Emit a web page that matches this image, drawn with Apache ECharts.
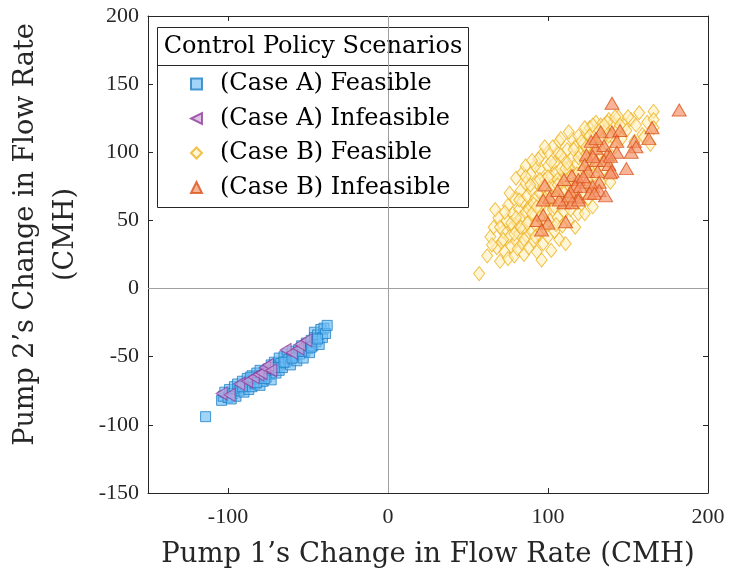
<!DOCTYPE html>
<html>
<head>
<meta charset="utf-8">
<title>Control Policy Scenarios</title>
<script src="https://cdn.jsdelivr.net/npm/echarts@6/dist/echarts.min.js"></script>
<style>
  html, body { margin: 0; padding: 0; background: #ffffff; }
  #chart { width: 729px; height: 573px; }
</style>
</head>
<body>
<div id="chart"></div>
<script>
// Pump flow-rate changes (CMH): [pump 1, pump 2]
const caseAFeasible = [
  [-114,-94],[-104,-82],[-103,-79],[-102,-76],[-100,-80],[-99,-74],[-97,-77],[-96,-72],
  [-95,-79],[-94,-70],[-93,-75],[-92,-73],[-91,-68],[-90,-76],[-89,-71],[-88,-66],
  [-87,-74],[-86,-69],[-85,-64],[-85,-72],[-84,-67],[-83,-70],[-82,-62],[-81,-66],
  [-80,-71],[-80,-60],[-79,-64],[-78,-68],[-77,-61],[-76,-65],[-75,-59],[-74,-63],
  [-73,-56],[-73,-67],[-72,-60],[-71,-54],[-70,-62],[-69,-57],[-68,-51],[-68,-60],
  [-67,-55],[-66,-58],[-65,-50],[-64,-54],[-63,-48],[-62,-52],[-61,-56],[-60,-46],
  [-59,-50],[-58,-49],[-57,-53],[-56,-45],[-55,-48],[-54,-42],[-53,-51],[-52,-46],
  [-51,-40],[-50,-44],[-49,-47],[-48,-38],[-47,-42],[-46,-32],[-46,-36],[-45,-39],
  [-44,-34],[-43,-41],[-42,-30],[-41,-36],[-40,-29],[-39,-33],[-38,-27],
  [-98,-81],[-91,-72],[-86,-65],[-82,-69],[-77,-66],[-71,-58],[-65,-54],[-60,-51],
  [-54,-46],[-48,-43],[-44,-37]
];
const caseAInfeasible = [
  [-104,-77],[-99,-78],[-93,-70],[-88,-68],[-84,-65],[-81,-63],[-79,-62],[-77,-58],
  [-75,-56],[-73,-60],[-64,-45],[-60,-47],[-56,-44],[-55,-41],[-51,-38]
];
const caseBFeasible = [
  [57,11],[62,24],[64,38],[66,45],[68,30],[69,52],[70,20],[67,58],
  [71,34],[72,42],[73,27],[74,50],[75,22],[75,61],[76,38],[77,31],[78,55],[78,45],
  [79,66],[80,81],[79,24],[80,35],[76,70],
  [81,48],[81,29],[82,58],[82,40],[83,72],[83,52],[84,33],[84,64],[85,44],[85,25],
  [86,56],[86,77],[87,38],[87,68],[88,49],[88,30],[89,61],[89,84],[90,42],[90,72],
  [84,85],[86,90],
  [91,55],[91,35],[92,66],[92,47],[93,78],[93,27],[94,58],[94,40],[95,88],[95,70],
  [96,50],[96,98],[96,21],[97,62],[97,33],[98,80],[98,44],[99,56],[99,72],[100,90],
  [100,38],[92,90],[94,95],
  [101,65],[101,50],[102,82],[102,28],[103,58],[103,74],[104,42],[104,92],[105,66],
  [105,85],[106,52],[106,100],[107,78],[107,36],[108,62],[108,88],[109,46],[109,72],
  [110,95],[110,57],[103,104],[107,108],
  [111,33],[111,80],[112,66],[112,102],[113,50],[113,88],[114,74],[114,58],[115,96],
  [115,110],[116,64],[116,82],[117,45],[117,104],[118,70],[118,92],[119,55],[119,112],
  [120,78],[120,100],[113,115],
  [121,62],[121,86],[122,106],[122,70],[123,94],[123,55],[124,114],[124,80],[125,66],
  [125,100],[126,88],[126,118],[127,74],[127,108],[128,95],[128,60],[129,84],[129,115],
  [130,104],[130,122],
  [131,90],[132,112],[133,78],[133,120],[134,100],[135,88],[136,116],[137,106],
  [138,124],[139,95],[140,112],[141,122],[142,104],[143,116],[144,126],[139,78],
  [146,110],[148,120],[149,116],[152,124],[154,108],[157,129],[159,113],[160,111],
  [162,122],[166,130],[166,124],[166,118],[164,106],
  [72,36],[77,48],[83,45],[88,58],[91,62],[95,52],[97,75],[101,70],[104,60],[106,80],
  [109,66],[111,88],[115,76],[118,84],[122,96],[125,92],[128,106],[131,98],[134,110],
  [123,118],[128,120],[137,122],
  [65,32],[70,45],[73,56],[79,40],[80,52],[82,65],[85,36],[87,48],[89,76],[90,55],
  [92,38],[93,60],[95,80],[98,66],[99,48],[100,82],[102,93],[103,66],[105,47],[106,76],
  [108,98],[110,70],[112,92],[114,82],[116,102],[117,72],[119,96],[121,108],[124,104],
  [126,112],[129,100],[132,116],[135,120],[138,112],[142,126],[145,120],[150,126],
  [155,120],[108,110],[100,100],[98,104],[90,94],[86,82]
];
const caseBInfeasible = [
  [140,136],[182,131],[165,118],[163,110],[133,115],[140,115],[145,116],[143,108],
  [154,108],[155,104],[152,100],[130,103],[135,105],[124,98],[137,98],[143,100],
  [130,94],[135,94],[138,91],[123,91],[125,86],[131,86],[140,86],[149,88],[115,83],
  [110,80],[98,76],[119,80],[124,78],[132,78],[117,75],[120,75],[128,75],[132,72],
  [114,71],[119,67],[126,70],[129,70],[136,68],[101,67],[97,65],[110,63],[115,63],
  [119,65],[107,65],[97,54],[93,50],[100,48],[111,49],[96,43],[127,108],[130,110],
  [139,97],[128,97],[139,85],[113,68],[122,82],[106,72]
];
const xTicks = [-100, 0, 100, 200];
const yRange = [-150, 200];
const xRange = [-150, 200];

const tickFont = '"Liberation Serif", serif';
const textFont = '"DejaVu Serif", "Liberation Serif", serif';
const axisColor = '#262626';

const chart = echarts.init(document.getElementById('chart'), null, { renderer: 'canvas' });

const baseAxis = {
  axisLine: { show: true, onZero: false, lineStyle: { color: axisColor, width: 1 } },
  splitLine: { show: false },
  axisTick: { show: true, inside: true, length: 5, lineStyle: { color: axisColor } }
};

chart.setOption({
  animation: false,
  backgroundColor: '#ffffff',
  grid: { left: 148, right: 21, top: 16, bottom: 80, containLabel: false, outerBoundsMode: 'none' },
  xAxis: [
    Object.assign({}, baseAxis, {
      type: 'value', position: 'bottom', min: xRange[0], max: xRange[1],
      axisTick: Object.assign({}, baseAxis.axisTick, { customValues: xTicks }),
      axisLabel: { customValues: xTicks, color: '#262626', fontFamily: tickFont, fontSize: 22, margin: 13 },
      name: 'Pump 1’s Change in Flow Rate (CMH)',
      nameLocation: 'middle', nameGap: 48,
      nameTextStyle: { color: '#262626', fontFamily: textFont, fontSize: 27.5 }
    }),
    Object.assign({}, baseAxis, {
      type: 'value', position: 'top', min: xRange[0], max: xRange[1],
      axisTick: Object.assign({}, baseAxis.axisTick, { customValues: xTicks }),
      axisLabel: { show: false }
    })
  ],
  yAxis: [
    Object.assign({}, baseAxis, {
      type: 'value', position: 'left', min: yRange[0], max: yRange[1], interval: 50,
      axisLabel: { color: '#262626', fontFamily: tickFont, fontSize: 22, margin: 9 },
      name: 'Pump 2’s Change in Flow Rate\n(CMH)',
      nameLocation: 'middle', nameGap: 62,
      nameTextStyle: {
        color: '#262626', fontFamily: textFont, fontSize: 27, lineHeight: 40,
        padding: [0, 0, 0, 40]
      }
    }),
    Object.assign({}, baseAxis, {
      type: 'value', position: 'right', min: yRange[0], max: yRange[1], interval: 50,
      axisLabel: { show: false }
    })
  ],
  legend: {
    data: [
      '(Case A) Feasible',
      { name: '(Case A) Infeasible', icon: 'path://M10,0 L10,10 L0,5 Z' },
      '(Case B) Feasible',
      '(Case B) Infeasible'
    ],
    orient: 'vertical',
    left: 190, top: 72, z: 30, padding: 0,
    itemWidth: 11, itemHeight: 11,
    itemGap: 10.5,
    textStyle: { color: '#000000', fontFamily: textFont, fontSize: 24, lineHeight: 24, padding: [0, 0, 0, 13] }
  },
  graphic: [
    {
      type: 'rect', z: 2,
      shape: { x: 157.5, y: 27.5, width: 311, height: 180 },
      style: { fill: '#ffffff', stroke: '#262626', lineWidth: 1 }
    },
    {
      type: 'line', z: 3,
      shape: { x1: 157.5, y1: 65.5, x2: 468.5, y2: 65.5 },
      style: { stroke: '#262626', lineWidth: 1 }
    },
    {
      type: 'text', z: 3,
      x: 313, y: 47,
      style: {
        text: 'Control Policy Scenarios', fill: '#000000',
        font: '24px ' + textFont, textAlign: 'center', textVerticalAlign: 'middle'
      }
    }
  ],
  series: [
    {
      name: 'zero', type: 'scatter', data: [], silent: true, z: 1,
      markLine: {
        silent: true, symbol: 'none', animation: false,
        label: { show: false },
        lineStyle: { color: '#a0a0a0', width: 1, type: 'solid' },
        data: [{ xAxis: 0 }, { yAxis: 0 }]
      }
    },
    {
      name: '(Case A) Feasible', type: 'scatter', data: caseAFeasible, z: 3,
      symbol: 'rect', symbolSize: 10,
      itemStyle: { color: 'rgba(108,188,245,0.8)', borderColor: '#1f7fc4', borderWidth: 1 }
    },
    {
      name: '(Case A) Infeasible', type: 'scatter', data: caseAInfeasible, z: 4,
      symbol: 'triangle', symbolSize: [13, 11], symbolRotate: 90,
      itemStyle: { color: 'rgba(205,160,215,0.8)', borderColor: '#8e3b9e', borderWidth: 1 }
    },
    {
      name: '(Case B) Feasible', type: 'scatter', data: caseBFeasible, z: 3,
      symbol: 'diamond', symbolSize: [11, 14],
      itemStyle: { color: 'rgba(255,240,190,0.75)', borderColor: '#edb120', borderWidth: 1 }
    },
    {
      name: '(Case B) Infeasible', type: 'scatter', data: caseBInfeasible, z: 4,
      symbol: 'triangle', symbolSize: [14, 12],
      itemStyle: { color: 'rgba(245,145,105,0.85)', borderColor: '#d95319', borderWidth: 1 }
    }
  ]
});
</script>
</body>
</html>
